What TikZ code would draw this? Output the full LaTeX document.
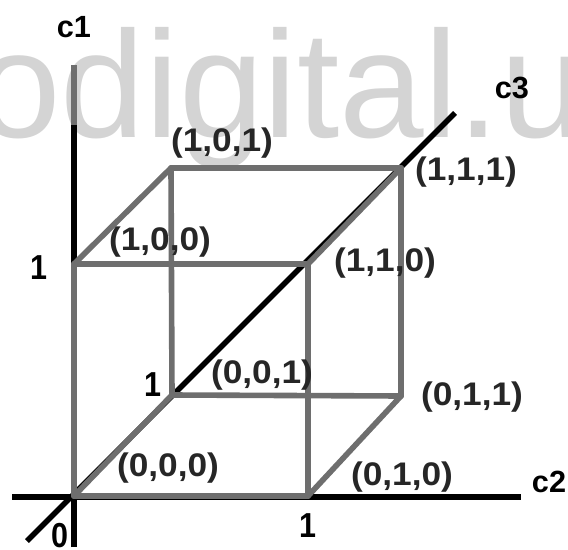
\documentclass[tikz,border=0pt]{standalone}
\usepackage{fontspec}
\setmainfont{Liberation Sans}
\definecolor{ink}  {HTML}{000000}
\definecolor{edge} {HTML}{6E6E6E}
\definecolor{stamp}{HTML}{D4D4D4}
\usetikzlibrary{positioning}

\begin{document}
\begin{tikzpicture}[
  x=0.75pt, y=-0.75pt,
  axisline/.style={draw=ink, line width=4.2pt},
  cubeedge/.style={draw=edge, line width=4.2pt, line cap=round},
  lbl/.style={font=\fontsize{24.5}{25}\selectfont\bfseries, text=ink!85, inner sep=0pt,
              xscale=1.08, transform shape},
  axisname/.style={font=\fontsize{23}{24}\selectfont\bfseries, text=ink, inner sep=0pt},
  tick/.style={font=\fontsize{26}{27}\selectfont\bfseries, text=ink, inner sep=0pt,
               xscale=0.88, transform shape},
]
  \useasboundingbox (0,0) rectangle (568,550);

  % --- the stamp behind everything ------------------------------
  \begin{scope}
    \clip (0,0) rectangle (568,550);
    \node[font=\fontsize{114}{114}\selectfont, text=stamp, anchor=base west, inner sep=0pt]
      (stamp) at (-24,137) {odigital.u};
  \end{scope}

  % --- cube corners ---------------------------------------------
  \coordinate (v000) at (74,496);
  \coordinate (v010) at (308,496);
  \coordinate (v100) at (74,264);
  \coordinate (v110) at (308,264);
  \coordinate (v001) at (172,395);
  \coordinate (v011) at (401,396);
  \coordinate (v101) at (171,168);
  \coordinate (v111) at (401,168);

  % --- free ends of the axes ------------------------------------
  \coordinate (c1top) at (74,65);
  \coordinate (c1mid) at (74,125);
  \coordinate (c1low) at (74,547);
  \coordinate (c2low) at (12,497);
  \coordinate (c2top) at (521,497);
  \coordinate (c3low) at (27,541);
  \coordinate (c3top) at (455,113);

  \draw[axisline] (c1low) -- (c1top);
  \draw[axisline] (c2low) -- (c2top);
  \draw[axisline] (c3low) -- (c3top);
  \draw[cubeedge, line cap=butt] (c1top) -- (c1mid);

  % --- the twelve edges -----------------------------------------
  \foreach \a/\b in {v000/v100, v000/v010, v000/v001, v100/v110, v100/v101, v010/v110,
                     v010/v011, v001/v011, v001/v101, v101/v111, v110/v111, v011/v111}
    \draw[cubeedge] (\a) -- (\b);

  % --- labels ---------------------------------------------------
  \node[lbl] (l000) at (168,468) {(0,0,0)};
  \node[lbl] (l010) at (402,477) {(0,1,0)};
  \node[lbl] (l001) at (262,375) {(0,0,1)};
  \node[lbl] (l011) at (472,397) {(0,1,1)};
  \node[lbl] (l100) at (160,242) {(1,0,0)};
  \node[lbl] (l110) at (385,263) {(1,1,0)};
  \node[lbl] (l101) at (222,143) {(1,0,1)};
  \node[lbl] (l111) at (466,172) {(1,1,1)};

  \node[axisname] (c1) at (74,27) {c1};
  \node[axisname] (c2) at (549,482) {c2};
  \node[axisname] (c3) at (512,88) {c3};
  \node[tick] (tick0)  at (60,536) {0};
  \node[tick] (tickx1) at (308,526) {1};
  \node[tick] (ticky1) at (39,268) {1};
  \node[tick] (tickz1) at (153,385) {1};
\end{tikzpicture}
\end{document}
